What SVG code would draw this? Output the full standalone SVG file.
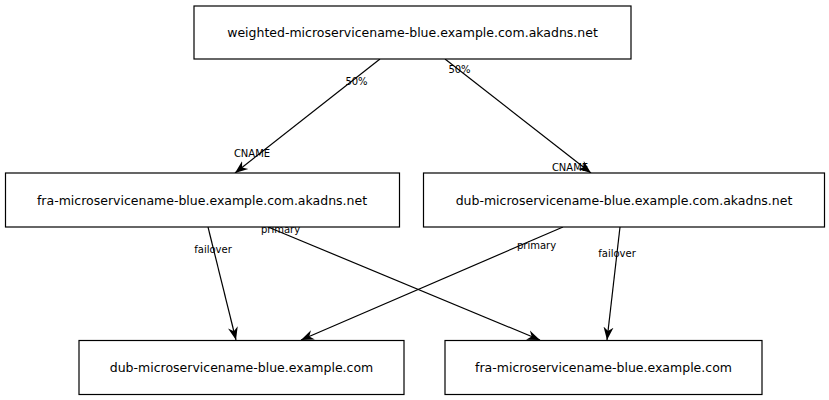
<svg xmlns="http://www.w3.org/2000/svg" width="829" height="400" viewBox="0 0 829 400">
<style>
.node rect{fill:#ffffff;stroke:#000000;stroke-width:1.2}
.node text{font-family:"DejaVu Sans",sans-serif;font-size:12.5px;fill:#000;text-anchor:middle}
.edges line{stroke:#000;stroke-width:1.2}
.lbl{font-family:"DejaVu Sans",sans-serif;font-size:10px;fill:#000;text-anchor:middle}
</style>
<defs>
<marker id="arr" markerUnits="userSpaceOnUse" markerWidth="14" markerHeight="12" refX="13" refY="5" orient="auto" viewBox="0 0 14 10">
<path d="M0,0 L13,5 L0,10 L4,5 z" fill="#000"/>
</marker>
</defs>
<rect width="829" height="400" fill="#fff"/>
<g class="edges">
<line x1="380" y1="59" x2="235" y2="173" marker-end="url(#arr)"/>
<line x1="445" y1="59" x2="591" y2="173" marker-end="url(#arr)"/>
<line x1="208" y1="227" x2="236" y2="340" marker-end="url(#arr)"/>
<line x1="268" y1="227" x2="540" y2="340" marker-end="url(#arr)"/>
<line x1="563" y1="227" x2="301" y2="340" marker-end="url(#arr)"/>
<line x1="620" y1="227" x2="607" y2="340" marker-end="url(#arr)"/>
<text class="lbl" x="356.5" y="85">50%</text>
<text class="lbl" x="459.5" y="73">50%</text>
<text class="lbl" x="252" y="157">CNAME</text>
<text class="lbl" x="570" y="170.5">CNAME</text>
<text class="lbl" x="213" y="253">failover</text>
<text class="lbl" x="280.5" y="233">primary</text>
<text class="lbl" x="536.5" y="249">primary</text>
<text class="lbl" x="617" y="256.5">failover</text>
</g>
<g id="weighted" class="node">
<rect x="194" y="6" width="437" height="53"/>
<text x="412.5" y="37">weighted-microservicename-blue.example.com.akadns.net</text>
</g>
<g id="fra-akadns" class="node">
<rect x="5.5" y="173" width="394" height="54"/>
<text x="202" y="204.5">fra-microservicename-blue.example.com.akadns.net</text>
</g>
<g id="dub-akadns" class="node">
<rect x="423.5" y="173" width="401" height="54"/>
<text x="624" y="204.5">dub-microservicename-blue.example.com.akadns.net</text>
</g>
<g id="dub-com" class="node">
<rect x="79" y="340.5" width="325" height="54"/>
<text x="241.5" y="372">dub-microservicename-blue.example.com</text>
</g>
<g id="fra-com" class="node">
<rect x="445" y="340.5" width="317" height="54"/>
<text x="603.5" y="372">fra-microservicename-blue.example.com</text>
</g>
</svg>
